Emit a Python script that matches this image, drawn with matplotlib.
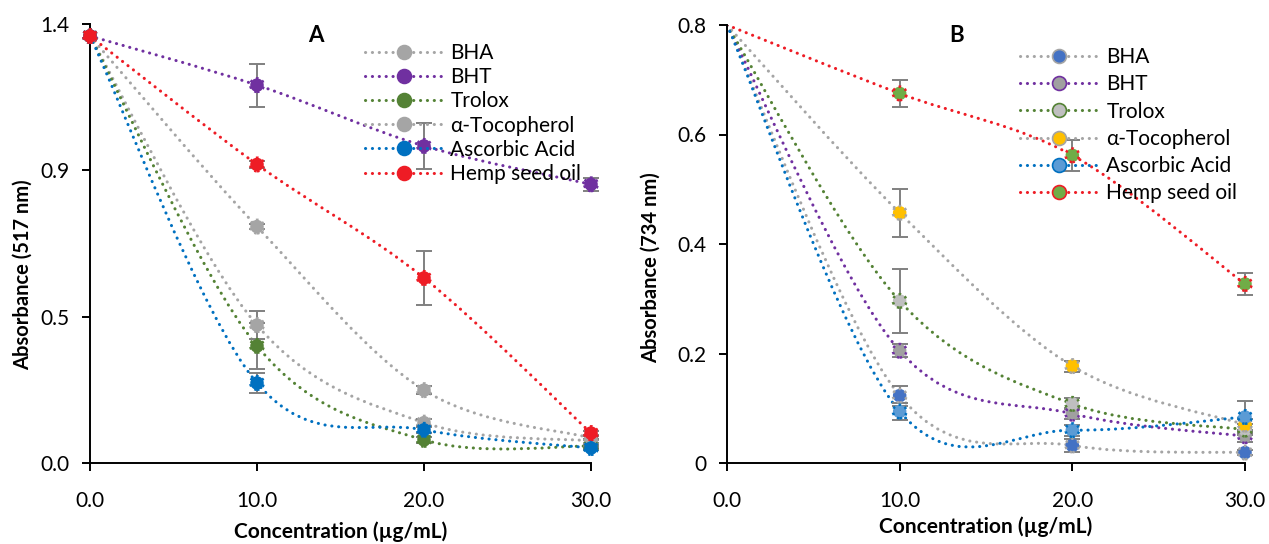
import matplotlib
import matplotlib.pyplot as plt
import numpy as np
from matplotlib.lines import Line2D
from matplotlib.patches import PathPatch
from matplotlib.path import Path

matplotlib.use("Agg")

plt.rcParams["font.family"] = ["Lato", "DejaVu Sans"]

# ---- data -------------------------------------------------------------
CONC = [0.0, 10.0, 20.0, 30.0]
SERIES_NAMES = ["BHA", "BHT", "Trolox", "α-Tocopherol", "Ascorbic Acid", "Hemp seed oil"]

# Panel A: DPPH (517 nm)
A_BHA = [1.313, 0.424, 0.124, 0.068]
A_BHA_ERR = [0.0, 0.043, 0.010, 0.005]
A_BHT = [1.313, 1.162, 0.975, 0.857]
A_BHT_ERR = [0.0, 0.066, 0.072, 0.020]
A_TROLOX = [1.313, 0.360, 0.071, 0.052]
A_TROLOX_ERR = [0.0, 0.070, 0.008, 0.005]
A_TOCO = [1.313, 0.727, 0.224, 0.077]
A_TOCO_ERR = [0.0, 0.008, 0.012, 0.006]
A_ASCORBIC = [1.313, 0.246, 0.102, 0.046]
A_ASCORBIC_ERR = [0.0, 0.030, 0.010, 0.005]
A_HEMP = [1.313, 0.918, 0.569, 0.092]
A_HEMP_ERR = [0.0, 0.012, 0.084, 0.005]

# Panel B: ABTS (734 nm)
B_BHA = [0.80, 0.123, 0.032, 0.019]
B_BHA_ERR = [0.0, 0.018, 0.012, 0.005]
B_BHT = [0.80, 0.205, 0.090, 0.049]
B_BHT_ERR = [0.0, 0.012, 0.010, 0.010]
B_TROLOX = [0.80, 0.296, 0.108, 0.061]
B_TROLOX_ERR = [0.0, 0.058, 0.010, 0.010]
B_TOCO = [0.80, 0.457, 0.177, 0.070]
B_TOCO_ERR = [0.0, 0.044, 0.010, 0.010]
B_ASCORBIC = [0.80, 0.094, 0.060, 0.084]
B_ASCORBIC_ERR = [0.0, 0.015, 0.010, 0.030]
B_HEMP = [0.80, 0.675, 0.562, 0.327]
B_HEMP_ERR = [0.0, 0.024, 0.028, 0.020]

A_YTICKS = [0.0, 0.45, 0.9, 1.35]
A_YTICKLABELS = ["0.0", "0.5", "0.9", "1.4"]
B_YTICKS = [0.0, 0.2, 0.4, 0.6, 0.8]
B_YTICKLABELS = ["0", "0.2", "0.4", "0.6", "0.8"]
XTICKS = [0, 10, 20, 30]
XTICKLABELS = ["0.0", "10.0", "20.0", "30.0"]

# ---- style ------------------------------------------------------------
GREY = "#A5A5A5"
PURPLE = "#7030A0"
GREEN = "#548235"
BLUE = "#0070C0"
RED = "#EE1C25"

LINE_COLORS = [GREY, PURPLE, GREEN, GREY, BLUE, RED]
A_FILLS = [GREY, PURPLE, GREEN, GREY, BLUE, RED]
B_FILLS = ["#4472C4", "#A0A0A0", "#BFBFBF", "#FFC000", "#5B9BD5", "#70AD47"]

W, H = 1269, 544
LW = 2.2
DOT = (0, (0.05, 2.2))


def smooth_path(xs, ys):
    # Excel-like smoothed line: cubic Bezier through the points
    pts = np.column_stack([xs, ys]).astype(float)
    n = len(pts)
    verts = [pts[0]]
    codes = [Path.MOVETO]
    for i in range(n - 1):
        p0 = pts[max(i - 1, 0)]
        p1 = pts[i]
        p2 = pts[i + 1]
        p3 = pts[min(i + 2, n - 1)]
        verts += [p1 + (p2 - p0) / 6, p2 - (p3 - p1) / 6, p2]
        codes += [Path.CURVE4] * 3
    return Path(verts, codes)


def draw_panel(ax, series, errs, fills, yticks, yticklabels, ylabel, first_marker):
    for vals, lc in zip(series, LINE_COLORS):
        ax.add_patch(PathPatch(smooth_path(CONC, vals), fill=False, edgecolor=lc,
                               lw=LW, linestyle=DOT, capstyle="round", zorder=2))
    for vals, err, lc, fc in zip(series, errs, LINE_COLORS, fills):
        x = np.array(CONC)
        y = np.array(vals)
        e = np.array(err)
        m = e > 0
        ax.errorbar(x[m], y[m], yerr=e[m], fmt="none", ecolor="#808080",
                    elinewidth=1.4, capsize=5.5, capthick=1.4, zorder=3, clip_on=False)
        s = slice(0, None) if first_marker else slice(1, None)
        ax.scatter(x[s], y[s], s=95, c=fc, edgecolors=lc, linewidths=1.8,
                   linestyles=":", zorder=4, clip_on=False)

    ax.set_xlim(0, 30)
    ax.set_ylim(yticks[0], yticks[-1])
    ax.set_xticks(XTICKS)
    ax.set_xticklabels(XTICKLABELS)
    ax.set_yticks(yticks)
    ax.set_yticklabels(yticklabels)
    ax.spines["top"].set_visible(False)
    ax.spines["right"].set_visible(False)
    for sp in ("left", "bottom"):
        ax.spines[sp].set_linewidth(1.4)
    ax.tick_params(direction="out", length=6, width=1.4, labelsize=15, colors="black")
    ax.tick_params(axis="y", pad=9)
    ax.tick_params(axis="x", pad=14)
    ax.set_xlabel("Concentration (µg/mL)", fontsize=15, fontweight="bold")
    ax.set_ylabel(ylabel, fontsize=14.5, fontweight="bold")


def legend_handles(fills):
    return [
        Line2D([0], [0], color=lc, lw=LW, linestyle=DOT, dash_capstyle="round",
               marker="o", markersize=10, markerfacecolor=fc, markeredgecolor=lc,
               markeredgewidth=1.2)
        for lc, fc in zip(LINE_COLORS, fills)
    ]


fig = plt.figure(figsize=(W / 100, H / 100), dpi=100)

ax_a = fig.add_axes([90 / W, 1 - 463 / H, (591 - 90) / W, (463 - 24) / H])
ax_b = fig.add_axes([727 / W, 1 - 463 / H, (1245 - 727) / W, (463 - 25) / H])

draw_panel(ax_a,
           [A_BHA, A_BHT, A_TROLOX, A_TOCO, A_ASCORBIC, A_HEMP],
           [A_BHA_ERR, A_BHT_ERR, A_TROLOX_ERR, A_TOCO_ERR, A_ASCORBIC_ERR, A_HEMP_ERR],
           A_FILLS, A_YTICKS, A_YTICKLABELS, "Absorbance (517 nm)", True)
draw_panel(ax_b,
           [B_BHA, B_BHT, B_TROLOX, B_TOCO, B_ASCORBIC, B_HEMP],
           [B_BHA_ERR, B_BHT_ERR, B_TROLOX_ERR, B_TOCO_ERR, B_ASCORBIC_ERR, B_HEMP_ERR],
           B_FILLS, B_YTICKS, B_YTICKLABELS, "Absorbance (734 nm)", False)

ax_a.xaxis.set_label_coords(0.5, -0.134)
ax_b.xaxis.set_label_coords(0.5, -0.122)
ax_a.yaxis.set_label_coords(-0.115, 0.43)
ax_b.yaxis.set_label_coords(-0.128, 0.445)

fig.legend(handles=legend_handles(A_FILLS), labels=SERIES_NAMES, loc="upper left",
           bbox_to_anchor=(365 / W, 1 - 43 / H), frameon=False, fontsize=15,
           handlelength=3.7, handletextpad=0.4, labelspacing=0.2, borderpad=0,
           borderaxespad=0)
fig.legend(handles=legend_handles(B_FILLS), labels=SERIES_NAMES, loc="upper left",
           bbox_to_anchor=(1020 / W, 1 - 47 / H), frameon=False, fontsize=15,
           handlelength=3.7, handletextpad=0.45, labelspacing=0.35, borderpad=0,
           borderaxespad=0)

fig.text(316 / W, 1 - 35 / H, "A", fontsize=16, fontweight="bold", ha="center", va="center")
fig.text(957 / W, 1 - 35 / H, "B", fontsize=16, fontweight="bold", ha="center", va="center")

fig.savefig("out.png", dpi=100)
